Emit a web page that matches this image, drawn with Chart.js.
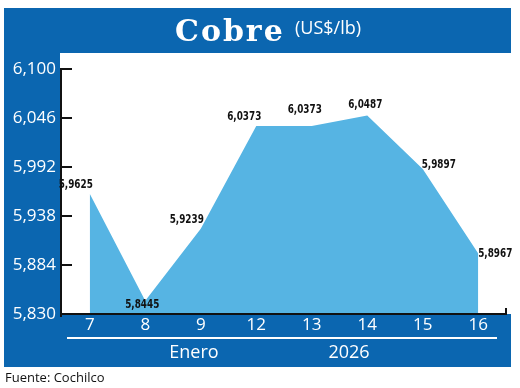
<!DOCTYPE html>
<html>
<head>
<meta charset="utf-8">
<script src="https://cdn.jsdelivr.net/npm/chart.js@4/dist/chart.umd.min.js"></script>
<style>
  html, body { margin: 0; padding: 0; background: #ffffff; }
  #wrap { width: 520px; height: 388px; position: relative; }
</style>
</head>
<body>
<div id="wrap"><canvas id="c" width="520" height="388"></canvas></div>
<script>
// ---- data ----
const categories = ['7', '8', '9', '12', '13', '14', '15', '16'];
const prices = [5.9625, 5.8445, 5.9239, 6.0373, 6.0373, 6.0487, 5.9897, 5.8967];
const yTickValues = [5.830, 5.884, 5.938, 5.992, 6.046, 6.100];
const titleMain = 'Cobre';
const titleUnit = '(US$/lb)';
const monthLabel = 'Enero';
const yearLabel = '2026';
const sourceLabel = 'Fuente: Cochilco';

// ---- style ----
const BLUE = '#0b66b0';
const FILL = '#56b4e3';
const labelOffsets = [[-14, -9], [-3, 4], [-14, -9], [-12, -9], [-7, -16], [-2, -11], [16, -4], [17, 0]];

const fmtTick = v => Number(v).toFixed(3).replace('.', ',');
const fmtVal = v => Number(v).toFixed(4).replace('.', ',');

const framePlugin = {
  id: 'frame',
  beforeDraw(chart) {
    const ctx = chart.ctx;
    const a = chart.chartArea;
    ctx.save();
    ctx.fillStyle = '#ffffff';
    ctx.fillRect(0, 0, chart.width, chart.height);
    ctx.fillStyle = BLUE;
    ctx.fillRect(4, 8, 507, 359);
    ctx.fillStyle = '#ffffff';
    ctx.fillRect(60, 53, 520 - 60, a.bottom - 53);
    ctx.restore();
  },
  afterDatasetsDraw(chart) {
    const ctx = chart.ctx;
    const a = chart.chartArea;
    const ys = chart.scales.y;
    const xs = chart.scales.x;
    ctx.save();
    ctx.strokeStyle = '#111111';
    ctx.lineWidth = 2;
    // y axis
    ctx.beginPath();
    ctx.moveTo(61, ys.getPixelForValue(yTickValues[yTickValues.length - 1]) - 1);
    ctx.lineTo(61, a.bottom + 3);
    ctx.stroke();
    // y ticks (inward)
    yTickValues.forEach(v => {
      const y = ys.getPixelForValue(v);
      ctx.beginPath();
      ctx.moveTo(60, y);
      ctx.lineTo(72, y);
      ctx.stroke();
    });
    // x axis
    ctx.beginPath();
    ctx.moveTo(60, a.bottom);
    ctx.lineTo(a.right + 1, a.bottom);
    ctx.stroke();
    ctx.beginPath();
    ctx.moveTo(a.right, a.bottom);
    ctx.lineTo(a.right, a.bottom - 6);
    ctx.stroke();

    // value labels
    ctx.fillStyle = '#111111';
    ctx.textAlign = 'center';
    ctx.textBaseline = 'middle';
    ctx.font = 'bold 12px "Liberation Sans Narrow", "DejaVu Sans Condensed", sans-serif';
    const meta = chart.getDatasetMeta(0);
    meta.data.forEach((pt, i) => {
      const off = labelOffsets[i] || [0, -10];
      ctx.save();
      ctx.translate(pt.x + off[0], pt.y + off[1]);
      ctx.scale(0.82, 1);
      ctx.fillText(fmtVal(prices[i]), 0, 0);
      ctx.restore();
    });
    ctx.restore();
  },
  afterDraw(chart) {
    const ctx = chart.ctx;
    ctx.save();
    ctx.fillStyle = '#ffffff';
    ctx.textBaseline = 'alphabetic';
    ctx.textAlign = 'left';
    ctx.font = 'bold 30px "DejaVu Serif", "Liberation Serif", serif';
    try { ctx.letterSpacing = '2px'; } catch (e) {}
    ctx.fillText(titleMain, 175, 41);
    try { ctx.letterSpacing = '0px'; } catch (e) {}
    ctx.font = '18px "Open Sans", sans-serif';
    ctx.fillText(titleUnit, 295, 34);

    // separator line
    ctx.strokeStyle = '#ffffff';
    ctx.lineWidth = 2;
    ctx.beginPath();
    ctx.moveTo(67, 338);
    ctx.lineTo(497, 338);
    ctx.stroke();

    ctx.textAlign = 'center';
    ctx.textBaseline = 'middle';
    ctx.font = '18px "Open Sans", sans-serif';
    ctx.fillText(monthLabel, 194, 353);
    ctx.fillText(yearLabel, 349, 353);

    ctx.fillStyle = '#111111';
    ctx.textAlign = 'left';
    ctx.textBaseline = 'alphabetic';
    ctx.font = '13px "Open Sans", sans-serif';
    ctx.fillText(sourceLabel, 5, 382);
    ctx.restore();
  }
};

new Chart(document.getElementById('c'), {
  type: 'line',
  data: {
    labels: categories,
    datasets: [{
      data: prices,
      backgroundColor: FILL,
      borderColor: FILL,
      borderWidth: 0,
      pointRadius: 0,
      tension: 0,
      fill: 'start'
    }]
  },
  options: {
    responsive: false,
    animation: false,
    events: [],
    layout: { padding: { left: 0, right: 14, top: 69, bottom: 34 } },
    plugins: { legend: { display: false }, tooltip: { enabled: false }, title: { display: false } },
    scales: {
      x: {
        offset: true,
        grid: { display: false, drawTicks: false },
        border: { display: false },
        ticks: { color: '#ffffff', font: { family: '"Open Sans", sans-serif', size: 17 }, padding: 1, maxRotation: 0, autoSkip: false },
        afterFit(s) { s.height = 40; }
      },
      y: {
        min: 5.83,
        max: 6.1,
        grid: { display: false, drawTicks: false },
        border: { display: false },
        afterBuildTicks(s) { s.ticks = yTickValues.map(v => ({ value: v })); },
        ticks: { color: '#ffffff', font: { family: '"Open Sans", sans-serif', size: 17 }, padding: 6, callback: v => fmtTick(v) },
        afterFit(s) { s.width = 62; }
      }
    }
  },
  plugins: [framePlugin]
});
</script>
</body>
</html>
